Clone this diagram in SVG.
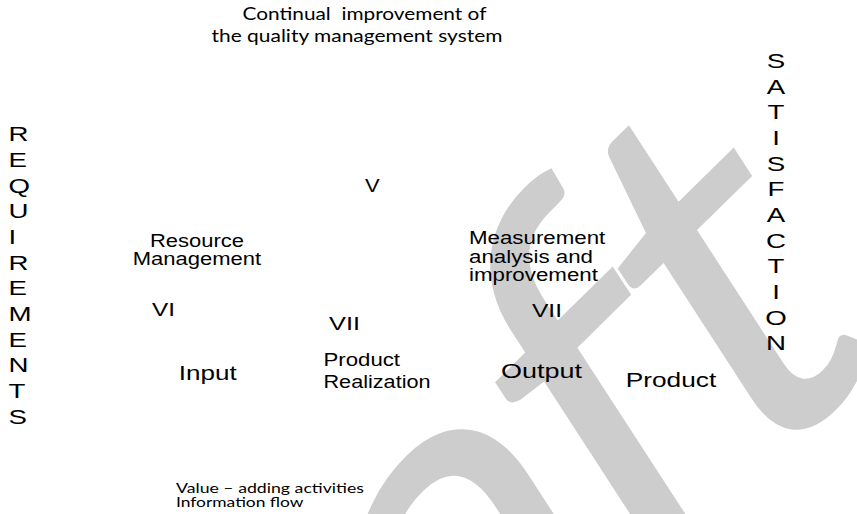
<svg xmlns="http://www.w3.org/2000/svg" width="857" height="514" viewBox="0 0 857 514">
<style>
text { font-family: "Liberation Sans", Arial, sans-serif; fill: #000; }
.lbl { font-size: 17.5px; }
.big { font-size: 21px; }
.col { font-size: 20.5px; }
.cal { font-family: Lato, "Open Sans", sans-serif; }
.wm { font-family: Lato, "Open Sans", sans-serif; font-size: 100px; fill: #cdcdcd; }
</style>
<rect width="857" height="514" fill="#ffffff"/>
<g id="watermark">
<text class="wm" text-anchor="end" transform="matrix(3.765 -3.701 2.85 4.388 883.4 357.4)">Dr<tspan dx="9">a</tspan><tspan dx="-4.5">f</tspan><tspan dx="-3">t</tspan></text>
</g>
<g id="connectors"></g>
<g id="title">
<text class="cal" font-size="17.5" x="242.5" y="20" textLength="244" lengthAdjust="spacingAndGlyphs" xml:space="preserve" style="white-space:pre">Continual  improvement of</text>
<text class="cal" font-size="17.5" x="211.5" y="41.5" textLength="291" lengthAdjust="spacingAndGlyphs">the quality management system</text>
</g>
<g id="requirements" class="col" transform="translate(8.5,0) scale(1.35,1)">
<text x="0" y="141.5">R</text>
<text x="0" y="167.15">E</text>
<text x="0" y="192.8">Q</text>
<text x="0" y="218.45">U</text>
<text x="0" y="244.1">I</text>
<text x="0" y="269.75">R</text>
<text x="0" y="295.4">E</text>
<text x="0" y="321.05">M</text>
<text x="0" y="346.7">E</text>
<text x="0" y="372.35">N</text>
<text x="0" y="398">T</text>
<text x="0" y="423.65">S</text>
</g>
<g id="satisfaction" class="col" text-anchor="middle" transform="translate(776,0) scale(1.35,1)">
<text x="0" y="68.1">S</text>
<text x="0" y="93.75">A</text>
<text x="0" y="119.4">T</text>
<text x="0" y="145.05">I</text>
<text x="0" y="170.7">S</text>
<text x="0" y="196.35">F</text>
<text x="0" y="222">A</text>
<text x="0" y="247.65">C</text>
<text x="0" y="273.3">T</text>
<text x="0" y="298.95">I</text>
<text x="0" y="324.6">O</text>
<text x="0" y="350.25">N</text>
</g>
<g id="node-v">
<text class="lbl" x="365" y="191.7" textLength="14.7" lengthAdjust="spacingAndGlyphs">V</text>
</g>
<g id="node-resource">
<text class="lbl" text-anchor="middle" x="197" y="246.7" textLength="94" lengthAdjust="spacingAndGlyphs">Resource</text>
<text class="lbl" text-anchor="middle" x="197" y="265" textLength="128.4" lengthAdjust="spacingAndGlyphs">Management</text>
</g>
<g id="node-vi">
<text class="lbl" x="152" y="316" textLength="23" lengthAdjust="spacingAndGlyphs">VI</text>
</g>
<g id="node-input">
<text class="big" x="178.7" y="380" textLength="58" lengthAdjust="spacingAndGlyphs">Input</text>
</g>
<g id="node-vii-left">
<text class="lbl" x="329" y="330" textLength="31" lengthAdjust="spacingAndGlyphs">VII</text>
</g>
<g id="node-realization">
<text class="lbl" x="323.5" y="365.5" textLength="76.5" lengthAdjust="spacingAndGlyphs">Product</text>
<text class="lbl" x="323.5" y="387.5" textLength="107" lengthAdjust="spacingAndGlyphs">Realization</text>
</g>
<g id="node-measurement">
<text class="lbl" x="469" y="244.3" textLength="136.3" lengthAdjust="spacingAndGlyphs">Measurement</text>
<text class="lbl" x="469" y="262.5" textLength="124" lengthAdjust="spacingAndGlyphs">analysis and</text>
<text class="lbl" x="469" y="280.8" textLength="128.9" lengthAdjust="spacingAndGlyphs">improvement</text>
</g>
<g id="node-vii-right">
<text class="lbl" x="532" y="316.7" textLength="30" lengthAdjust="spacingAndGlyphs">VII</text>
</g>
<g id="node-output">
<text class="big" x="501" y="378.3" textLength="81" lengthAdjust="spacingAndGlyphs">Output</text>
</g>
<g id="node-product">
<text class="big" x="625.7" y="387" textLength="90.5" lengthAdjust="spacingAndGlyphs">Product</text>
</g>
<g id="legend">
<text class="cal" font-size="14" x="176" y="493.3" textLength="188" lengthAdjust="spacingAndGlyphs">Value – adding activities</text>
<text class="cal" font-size="14" x="176" y="507" textLength="127.5" lengthAdjust="spacingAndGlyphs">Information flow</text>
</g>
</svg>
